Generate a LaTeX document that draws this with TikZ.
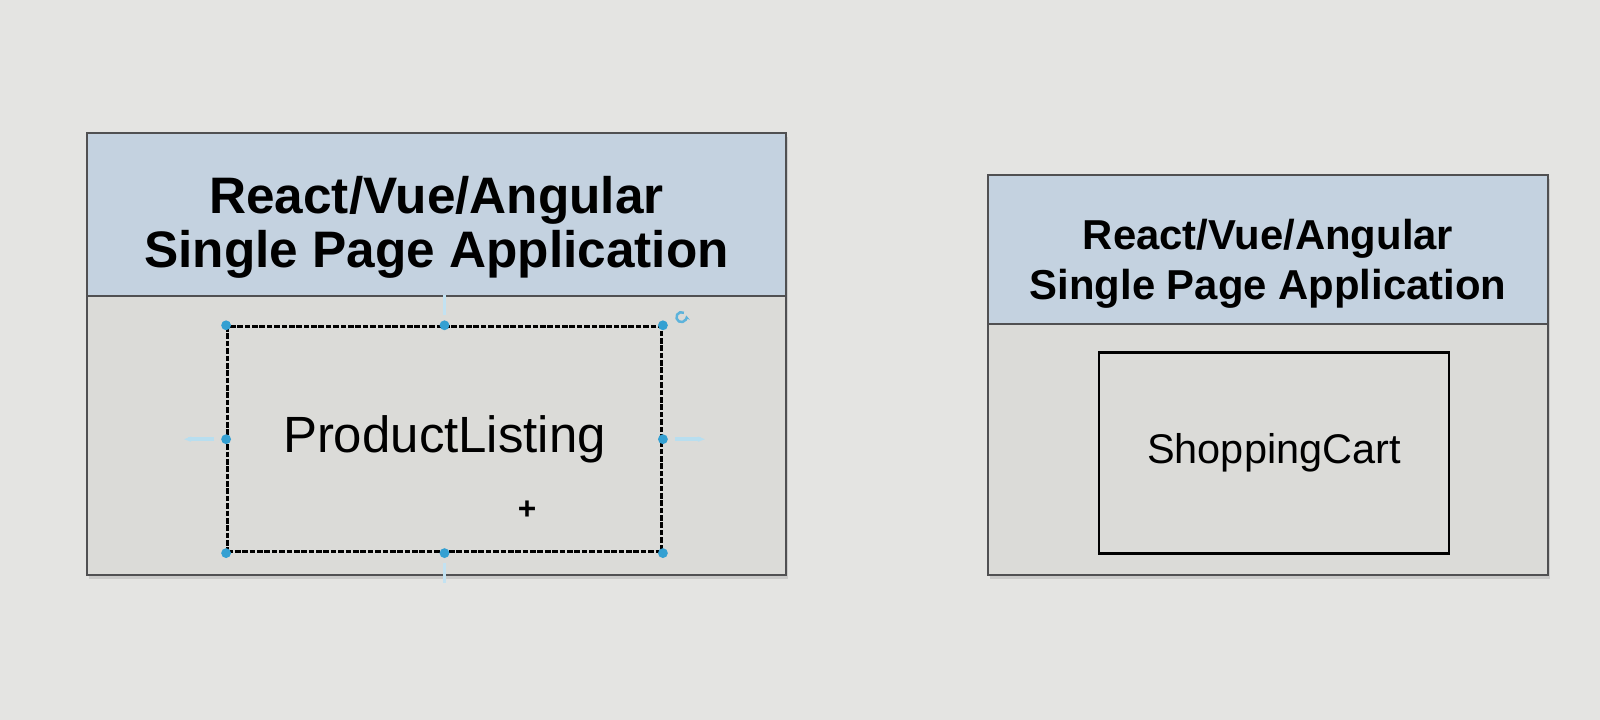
\documentclass[tikz,border=0pt]{standalone}
\usepackage{fontspec}
\setmainfont{Liberation Sans}
\usetikzlibrary{arrows.meta, positioning, shadows}

\definecolor{screen}{RGB}{228,228,226}
\definecolor{panelbody}{RGB}{219,219,216}
\definecolor{panelhead}{RGB}{196,210,224}
\definecolor{frame}{RGB}{80,80,82}
\definecolor{grip}{RGB}{52,160,210}

\begin{document}
\begin{tikzpicture}[
    % Define node styles
    panel/.style={rectangle, draw=frame, line width=0.75pt, fill=panelbody,
                  drop shadow={opacity=0.25, shadow xshift=0.6pt, shadow yshift=-1.2pt}},
    header/.style={rectangle, draw=frame, line width=0.75pt, fill=panelhead,
                   anchor=north},
    headtext/.style={align=center, inner sep=0pt},
    component/.style={rectangle, draw=black, line width=0.8pt, fill=panelbody,
                      align=center},
    selected/.style={component, dash pattern=on 1.6pt off 0.5pt},
    grip/.style={circle, fill=grip, inner sep=0pt, minimum size=2.8pt},
    ghost/.style={draw=grip!35, line width=1pt, -{Stealth[length=2pt]}}
]
    % Screen background
    \fill[screen] (0,0) rectangle (16,7.2);
    \useasboundingbox (0,0) rectangle (16,7.2);

    % Left application
    \node[panel, minimum width=6.99cm, minimum height=4.42cm] (leftapp) at (4.365,3.66) {};
    \node[header, minimum width=6.99cm, minimum height=1.63cm] (lefthead) at (leftapp.north) {};
    \node[headtext, font=\bfseries\fontsize{14.6}{15.4}\selectfont]
        (lefttitle) at ([yshift=-0.13cm]lefthead.center)
        {React/Vue/Angular\\Single Page Application};
    \node[selected, minimum width=4.34cm, minimum height=2.25cm,
          font=\fontsize{14.5}{16}\selectfont, below=0.28cm of lefthead, xshift=0.08cm] (listing)
          {ProductListing};

    % Right application
    \node[panel, minimum width=5.6cm, minimum height=4.0cm] (rightapp) at (12.68,3.45) {};
    \node[header, minimum width=5.6cm, minimum height=1.49cm] (righthead) at (rightapp.north) {};
    \node[headtext, font=\bfseries\fontsize{11.9}{14.2}\selectfont]
        (righttitle) at ([yshift=-0.14cm]righthead.center)
        {React/Vue/Angular\\Single Page Application};
    \node[component, minimum width=3.5cm, minimum height=2.01cm,
          font=\fontsize{11.8}{13}\selectfont, below=0.26cm of righthead, xshift=0.06cm] (cart)
          {ShoppingCart};

    % Selection handles round ProductListing
    \coordinate[left=0.12cm of listing.west] (gw1);
    \coordinate[left=0.42cm of listing.west] (gw2);
    \coordinate[right=0.12cm of listing.east] (ge1);
    \coordinate[right=0.42cm of listing.east] (ge2);
    \coordinate[above=0.1cm of listing.north] (gn1);
    \coordinate[above=0.3cm of listing.north] (gn2);
    \coordinate[below=0.1cm of listing.south] (gs1);
    \coordinate[below=0.3cm of listing.south] (gs2);
    \draw[ghost] (gw1) -- (gw2);
    \draw[ghost] (ge1) -- (ge2);
    \draw[draw=grip!30, line width=1pt] (gn1) -- (gn2);
    \draw[draw=grip!30, line width=1pt] (gs1) -- (gs2);
    \foreach \a in {north west, north, north east, east, south east, south, south west, west}
        \node[grip] at (listing.\a) {};

    % Rotation handle and cursor
    \coordinate[above right=0.08cm and 0.19cm of listing.north east] (turn);
    \draw[grip!80, line width=0.7pt, -{Stealth[length=1.5pt]}]
        ([shift={(0.02,0.045)}]turn) arc[start angle=60, end angle=380, radius=0.05cm];
    \node[font=\bfseries\small, inner sep=0pt] (cursor) at (5.27,2.1) {+};
\end{tikzpicture}
\end{document}
